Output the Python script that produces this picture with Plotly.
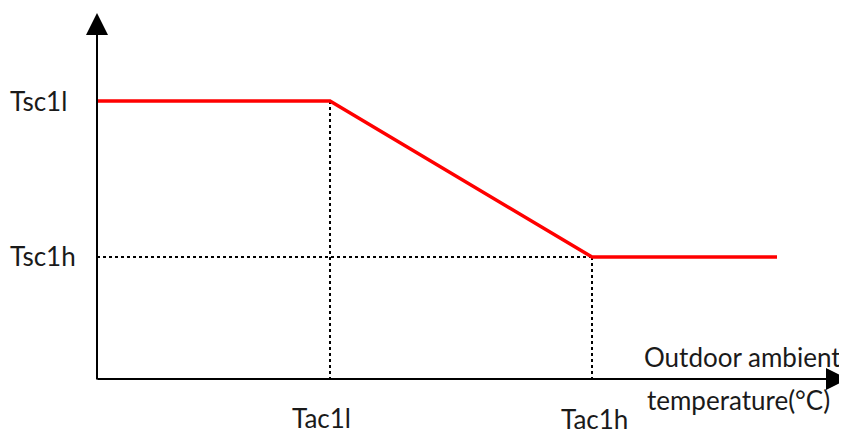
import plotly.graph_objects as go

# Schematic data (units relative to the axes origin)
line_x = [0, 233, 495, 680]          # start, Tac1l, Tac1h, end
line_y = [279, 279, 123, 123]        # Tsc1l, Tsc1l, Tsc1h, Tsc1h
tac1l_x = 233
tac1h_x = 495
tsc1l_y = 279
tsc1h_y = 123
y_labels = ["Tsc1l", "Tsc1h"]
x_labels = ["Tac1l", "Tac1h"]
axis_title = ["Outdoor ambient", "temperature(°C)"]

fig = go.Figure()

# dotted guide lines
fig.add_trace(go.Scatter(x=[tac1l_x, tac1l_x], y=[0, tsc1l_y], mode="lines",
                         line=dict(color="black", width=2, dash="dot"), hoverinfo="skip"))
fig.add_trace(go.Scatter(x=[0, tac1h_x], y=[tsc1h_y, tsc1h_y], mode="lines",
                         line=dict(color="black", width=2, dash="dot"), hoverinfo="skip"))
fig.add_trace(go.Scatter(x=[tac1h_x, tac1h_x], y=[0, tsc1h_y], mode="lines",
                         line=dict(color="black", width=2, dash="dot"), hoverinfo="skip"))

# red curve
fig.add_trace(go.Scatter(x=line_x, y=line_y, mode="lines",
                         line=dict(color="#FF0000", width=3.5), hoverinfo="skip"))

font = dict(family="Lato, Carlito, Open Sans, sans-serif", size=26, color="#1a1a1a")

# axes with arrows
fig.add_annotation(x=0, y=367, ax=0, ay=-1, xref="x", yref="y", axref="x", ayref="y",
                   showarrow=True, arrowhead=2, arrowsize=2.2, arrowwidth=2, arrowcolor="black", text="")
fig.add_annotation(x=751, y=1, ax=-1, ay=1, xref="x", yref="y", axref="x", ayref="y",
                   showarrow=True, arrowhead=2, arrowsize=2.2, arrowwidth=2, arrowcolor="black", text="")

# labels
fig.add_annotation(x=-59, y=tsc1l_y, text=y_labels[0], showarrow=False, font=font)
fig.add_annotation(x=-54, y=tsc1h_y + 1, text=y_labels[1], showarrow=False, font=font)
fig.add_annotation(x=tac1l_x - 9, y=-38, text=x_labels[0], showarrow=False, font=font)
fig.add_annotation(x=tac1h_x + 2, y=-39, text=x_labels[1], showarrow=False, font=font)
fig.add_annotation(x=645, y=23, text=axis_title[0], showarrow=False, font=font)
fig.add_annotation(x=641, y=-20, text=axis_title[1], showarrow=False, font=font)

# page body has an 8px margin: shift the ranges so that the origin lands at (97, 380)
fig.update_xaxes(range=[-89, 758], visible=False, fixedrange=True)
fig.update_yaxes(range=[-63, 372], visible=False, fixedrange=True)
fig.update_layout(width=847, height=435, margin=dict(l=0, r=0, t=0, b=0),
                  plot_bgcolor="white", paper_bgcolor="white", showlegend=False)

fig.write_html("out.html")
